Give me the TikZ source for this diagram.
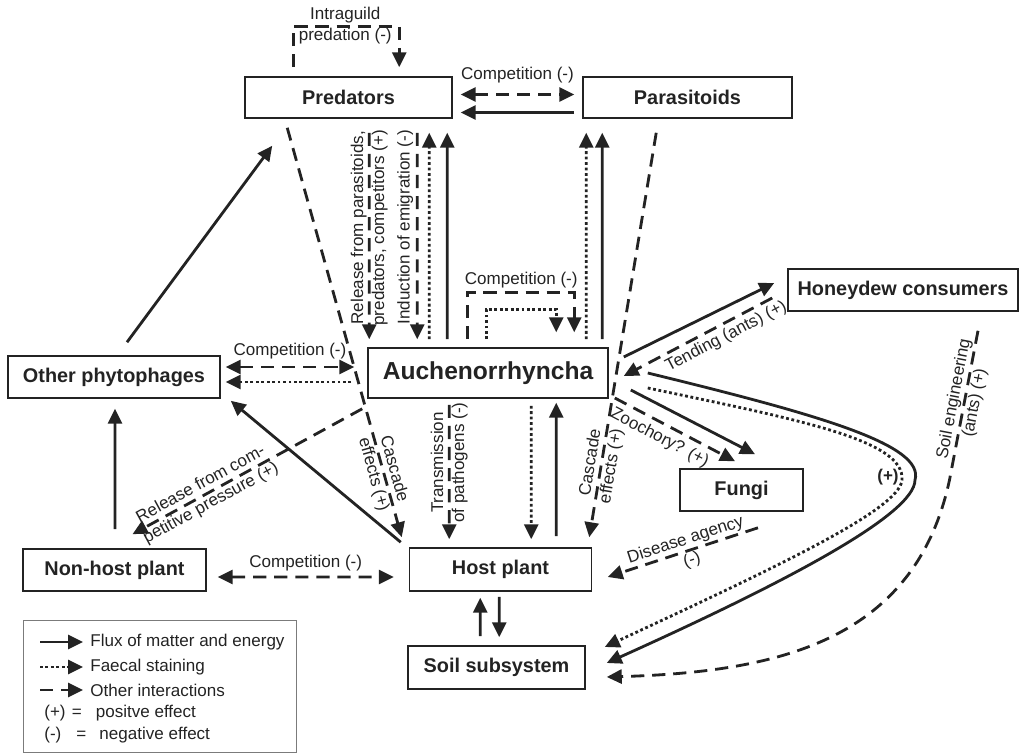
\documentclass[tikz,border=0pt]{standalone}
\usepackage{fontspec}
\setmainfont{Liberation Sans}
\usetikzlibrary{arrows.meta,calc}
\definecolor{ink}{RGB}{35,35,35}

\begin{document}
\begin{tikzpicture}[x=0.02cm, y=-0.02cm,
	every node/.style={text=ink},
	box/.style={draw=ink, line width=0.9pt, inner sep=0pt, font=\fontsize{11.3}{13}\selectfont\bfseries},
	lbl/.style={font=\fontsize{9.7}{12}\selectfont, align=center, inner sep=1pt},
	>={Triangle[length=8.5pt,width=8pt]},
	flux/.style={draw=ink, line width=1.6pt, ->},
	faecal/.style={draw=ink, line width=1.6pt, dash pattern=on 1.6pt off 1.5pt, ->},
	inter/.style={draw=ink, line width=1.6pt, dash pattern=on 7.5pt off 4.5pt, ->}]
	\useasboundingbox (0,0) rectangle (1019,756);

	\node[box, minimum width=4.14cm, minimum height=0.82cm] (pred) at (348.5,97.5) {Predators};
	\node[box, minimum width=4.18cm, minimum height=0.82cm] (para) at (687.5,97.5) {Parasitoids};
	\node[box, minimum width=4.8cm, minimum height=1cm, font=\fontsize{14}{16}\selectfont\bfseries] (auch) at (488,373) {Auchenorrhyncha};
	\node[box, minimum width=4.6cm, minimum height=0.84cm] (honey) at (903,290) {Honeydew consumers};
	\node[box, minimum width=4.24cm, minimum height=0.84cm] (other) at (114,377) {Other phytophages};
	\node[box, minimum width=2.46cm, minimum height=0.84cm] (fungi) at (741.5,490) {Fungi};
	\node[box, minimum width=3.66cm, minimum height=0.84cm] (nonhost) at (114.5,570) {Non-host plant};
	\node[box, minimum width=3.64cm, minimum height=0.86cm] (host) at (500.5,569.5) {Host plant};
	\node[box, minimum width=3.54cm, minimum height=0.86cm] (soil) at (496.5,667.5) {Soil subsystem};

	\draw[inter] ($(pred.north west)+(49,-9)$) -- ++(0,-41) -| ($(pred.north west)+(155,-9)$);
	\node[lbl] (igp) at ($(pred.north west)+(101,-50.5)$) {Intraguild\\predation (-)};
	\draw[inter, <->] ($(pred.east)+(8,-3)$) -- ($(para.west)+(-8,-3)$) node[lbl, midway, yshift=11pt] (comp1) {Competition (-)};
	\draw[flux] ($(para.west)+(-8,15)$) -- ($(pred.east)+(8,15)$);

	\draw[inter] ($(pred.south west)+(125,14)$) -- ($(auch.north west)+(2,-8)$) node[lbl, pos=0.46, rotate=90] {Release from parasitoids,\\predators, competitors (+)};
	\draw[inter] ($(pred.south west)+(173,14)$) -- ($(auch.north west)+(50,-8)$);
	\node[lbl, rotate=90] (indlbl) at ($(auch.north west)+(38,-120)$) {Induction of emigration (-)};
	\draw[faecal] ($(auch.north west)+(62,-8)$) -- ($(pred.south west)+(185,14)$);
	\draw[flux] ($(auch.north west)+(80,-8)$) -- ($(pred.south west)+(203,14)$);
	\draw[faecal] ($(auch.north west)+(219,-8)$) -- ($(para.south west)+(4,14)$);
	\draw[flux] ($(auch.north west)+(235,-8)$) -- ($(para.south west)+(20,14)$);

	\draw[inter] ($(auch.north west)+(100,-8)$) -- ++(0,-47) -| ($(auch.north west)+(207,-15)$);
	\draw[faecal] ($(auch.north west)+(119,-8)$) -- ++(0,-30) -| ($(auch.north west)+(189,-15)$);
	\node[lbl] (comp2) at ($(auch.north west)+(154,-67)$) {Competition (-)};

	\draw[inter] ($(pred.south west)+(43,9)$) -- ($(host.north west)+(-7,-10)$) node[lbl, sloped, pos=0.84] {Cascade\\effects (+)};
	\draw[inter] ($(para.south west)+(74,14)$) -- ($(host.north east)+(-3,-10)$) node[lbl, sloped, pos=0.82] {Cascade\\effects (+)};

	\draw[inter, <->] ($(other.east)+(5,-10)$) -- ($(auch.west)+(-13,-6)$) node[lbl, midway, yshift=9pt] (comp3) {Competition (-)};
	\draw[faecal] ($(auch.west)+(-16,9)$) -- ($(other.east)+(5,5)$);
	\draw[flux] ($(other.north)+(13,-13)$) -- ($(pred.south west)+(28,27)$);
	\draw[flux] ($(nonhost.north)+(0.5,-19)$) -- ($(other.south)+(1,10)$);
	\draw[flux] ($(host.north west)+(-8,-5)$) -- ($(other.south east)+(10,2)$);
	\draw[inter] ($(auch.south west)+(-5,10)$) -- ($(nonhost.north)+(18,-14)$) node[lbl, sloped, pos=0.68] {Release from com-\\petitive pressure (+)};
	\draw[inter, <->] ($(nonhost.east)+(11,7)$) -- ($(host.west)+(-15,7.5)$) node[lbl, midway, yshift=8pt] (comp4) {Competition (-)};

	\draw[inter] ($(auch.south west)+(82,6)$) -- ($(host.north west)+(40.5,-8)$) node[lbl, pos=0.43, rotate=90] {Transmission\\of pathogens (-)};
	\draw[faecal] ($(auch.south west)+(164,7)$) -- ($(host.north west)+(122.5,-8)$);
	\draw[flux] ($(host.north west)+(147.5,-11)$) -- ($(auch.south west)+(189,4)$);

	\draw[flux] ($(auch.east)+(22,17)$) -- ($(fungi.north)+(13.5,-14)$);
	\draw[inter] ($(auch.east)+(6,25)$) -- ($(fungi.north)+(-6.5,-7)$) node[lbl, sloped, below=2pt, pos=0.43] {Zoochory? (+)};
	\draw[flux] ($(auch.east)+(15,-16)$) -- ($(honey.west)+(-13,-7)$);
	\draw[inter] ($(honey.west)+(-15,8)$) -- ($(auch.east)+(15,3)$) node[lbl, sloped, below=1pt, pos=0.35] {Tending (ants) (+)};
	\draw[inter] ($(fungi.south)+(16.5,16)$) -- ($(host.east)+(15.5,7.5)$) node[lbl, sloped, pos=0.46] {Disease agency\\(-)};

	\draw[flux] ($(auch.east)+(39,0)$) .. controls (820,415) and (925,445) .. (915,480) .. controls (915,515) and (780,585) .. ($(soil.east)+(21,-4.5)$);
	\draw[faecal] ($(auch.east)+(39,15)$) .. controls (800,420) and (905,440) .. (902,480) .. controls (900,510) and (770,570) .. ($(soil.east)+(19,-20.5)$);
	\node[lbl, font=\fontsize{9.7}{12}\selectfont\bfseries] (plus) at (888,477) {(+)};
	\draw[inter] ($(honey.south)+(75,19)$) -- node[lbl, sloped, pos=0.47] {Soil engineering\\(ants) (+)} (949.5,480) .. controls (915,640) and (780,672) .. ($(soil.east)+(21,9.5)$);

	\draw[flux] ($(soil.north west)+(73,-9)$) -- ($(host.south west)+(71.5,6)$);
	\draw[flux] ($(host.south west)+(90.5,5)$) -- ($(soil.north west)+(92,-8)$);

	\node[draw=ink!60, line width=0.5pt, minimum width=5.46cm, minimum height=2.64cm, inner sep=0pt] (legend) at (159.5,686) {};
	\node[lbl, anchor=west, inner sep=0pt] (lflux) at (90,642) {Flux of matter and energy};
	\draw[flux] ($(lflux.west)+(-50,0)$) -- ($(lflux.west)+(-7,0)$);
	\node[lbl, anchor=west, inner sep=0pt] (lfaec) at (90,667) {Faecal staining};
	\draw[faecal] ($(lfaec.west)+(-50,0)$) -- ($(lfaec.west)+(-7,0)$);
	\node[lbl, anchor=west, inner sep=0pt] (linter) at (90,690) {Other interactions};
	\draw[inter] ($(linter.west)+(-50,0)$) -- ($(linter.west)+(-7,0)$);
	\node[lbl, anchor=west, inner sep=0pt] (lplus) at (44,713) {(+)\hspace{3.5pt}=\hspace{8pt}positve effect};
	\node[lbl, anchor=west, inner sep=0pt] (lminus) at (44,735) {(-)\hspace{8.5pt}=\hspace{7.5pt}negative effect};
\end{tikzpicture}
\end{document}
